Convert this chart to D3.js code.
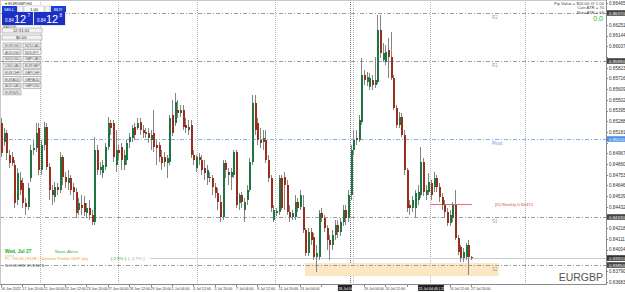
<!DOCTYPE html>
<html><head><meta charset="utf-8">
<script src="https://cdn.jsdelivr.net/npm/d3@7"></script>
<style>
html,body{margin:0;padding:0;background:#fff;overflow:hidden;}
svg{display:block;font-family:"Liberation Sans",Arial,sans-serif;}
</style></head><body>
<svg id="c" width="625" height="292"></svg>
<script>
// ---------------- DATA ----------------
const symbol = "EURGBP";
const timeLabels = ["16 Jun 2022","17 Jun 20:00","21 Jun 04:00","22 Jun 12:00","23 Jun 20:00","27 Jun 04:00","28 Jun 12:00","29 Jun 20:00","1 Jul 04:00","4 Jul 12:00","5 Jul 20:00","7 Jul 04:00","8 Jul 12:00","11 Jul 20:00","13 Jul 04:00","14 Jul 12:00","15 Jul 20:00","19 Jul 04:00","20 Jul 12:00","21 Jul 20:00","25 Jul 04:00","26 Jul 12:00","27 Jul 20:00"];
const opens = [0.8527,0.8508,0.8517,0.8495,0.8493,0.8485,0.8450,0.8470,0.8467,0.8447,0.8443,0.8472,0.8500,0.8502,0.8522,0.8480,0.8505,0.8523,0.8483,0.8460,0.8453,0.8463,0.8460,0.8493,0.8473,0.8467,0.8472,0.8463,0.8458,0.8440,0.8445,0.8447,0.8437,0.8442,0.8435,0.8428,0.8500,0.8480,0.8477,0.8483,0.8503,0.8527,0.8527,0.8485,0.8500,0.8503,0.8485,0.8490,0.8508,0.8512,0.8523,0.8522,0.8528,0.8520,0.8516,0.8517,0.8510,0.8517,0.8505,0.8505,0.8493,0.8493,0.8487,0.8488,0.8535,0.8527,0.8540,0.8537,0.8540,0.8525,0.8520,0.8525,0.8495,0.8482,0.8493,0.8490,0.8482,0.8472,0.8473,0.8472,0.8463,0.8457,0.8448,0.8433,0.8487,0.8478,0.8473,0.8475,0.8498,0.8447,0.8455,0.8440,0.8450,0.8460,0.8488,0.8547,0.8527,0.8510,0.8508,0.8510,0.8490,0.8472,0.8430,0.8437,0.8438,0.8472,0.8473,0.8465,0.8438,0.8433,0.8433,0.8448,0.8443,0.8443,0.8420,0.8397,0.8418,0.8413,0.8393,0.8393,0.8437,0.8432,0.8422,0.8410,0.8405,0.8415,0.8425,0.8418,0.8428,0.8440,0.8432,0.8455,0.8500,0.8512,0.8510,0.8528,0.8575,0.8568,0.8563,0.8570,0.8565,0.8568,0.8620,0.8590,0.8588,0.8600,0.8593,0.8572,0.8542,0.8525,0.8533,0.8515,0.8480,0.8445,0.8442,0.8442,0.8450,0.8455,0.8488,0.8455,0.8458,0.8467,0.8463,0.8472,0.8463,0.8453,0.8445,0.8438,0.8427,0.8432,0.8445,0.8412,0.8403,0.8392,0.8393,0.8405,0.8393];
const highs = [0.8532,0.8522,0.8520,0.8500,0.8498,0.8490,0.8482,0.8478,0.8472,0.8452,0.8467,0.8505,0.8510,0.8527,0.8527,0.8510,0.8528,0.8527,0.8487,0.8465,0.8468,0.8467,0.8498,0.8495,0.8478,0.8480,0.8475,0.8467,0.8462,0.8452,0.8455,0.8454,0.8447,0.8450,0.8440,0.8513,0.8505,0.8488,0.8490,0.8507,0.8533,0.8530,0.8530,0.8520,0.8505,0.8507,0.8500,0.8510,0.8517,0.8525,0.8527,0.8532,0.8532,0.8525,0.8522,0.8522,0.8520,0.8540,0.8510,0.8508,0.8500,0.8498,0.8495,0.8535,0.8550,0.8557,0.8550,0.8545,0.8545,0.8532,0.8530,0.8530,0.8500,0.8495,0.8497,0.8495,0.8490,0.8485,0.8478,0.8475,0.8467,0.8462,0.8455,0.8490,0.8490,0.8482,0.8482,0.8500,0.8500,0.8457,0.8458,0.8452,0.8465,0.8492,0.8555,0.8555,0.8532,0.8522,0.8520,0.8520,0.8495,0.8475,0.8445,0.8442,0.8475,0.8475,0.8478,0.8470,0.8445,0.8440,0.8455,0.8452,0.8460,0.8455,0.8422,0.8422,0.8422,0.8417,0.8405,0.8440,0.8442,0.8435,0.8425,0.8415,0.8420,0.8430,0.8430,0.8432,0.8445,0.8445,0.8460,0.8505,0.8520,0.8520,0.8535,0.8592,0.8580,0.8578,0.8577,0.8575,0.8593,0.8635,0.8635,0.8607,0.8605,0.8612,0.8618,0.8575,0.8545,0.8538,0.8537,0.8520,0.8482,0.8450,0.8454,0.8460,0.8465,0.8503,0.8492,0.8465,0.8477,0.8470,0.8478,0.8475,0.8467,0.8457,0.8450,0.8442,0.8440,0.8448,0.8460,0.8415,0.8405,0.8402,0.8407,0.8410,0.8394];
const lows = [0.8493,0.8504,0.8490,0.8482,0.8484,0.8442,0.8445,0.8455,0.8442,0.8435,0.8440,0.8468,0.8495,0.8498,0.8475,0.8475,0.8500,0.8480,0.8450,0.8445,0.8448,0.8455,0.8457,0.8465,0.8462,0.8460,0.8455,0.8450,0.8432,0.8435,0.8435,0.8434,0.8432,0.8430,0.8425,0.8425,0.8475,0.8475,0.8472,0.8480,0.8500,0.8515,0.8488,0.8478,0.8490,0.8480,0.8480,0.8485,0.8502,0.8508,0.8510,0.8520,0.8515,0.8512,0.8512,0.8507,0.8500,0.8498,0.8485,0.8488,0.8480,0.8483,0.8472,0.8485,0.8514,0.8524,0.8532,0.8533,0.8520,0.8517,0.8515,0.8492,0.8485,0.8478,0.8485,0.8475,0.8470,0.8465,0.8468,0.8455,0.8452,0.8440,0.8428,0.8430,0.8472,0.8465,0.8460,0.8472,0.8442,0.8440,0.8442,0.8428,0.8445,0.8458,0.8485,0.8515,0.8505,0.8502,0.8500,0.8487,0.8468,0.8438,0.8428,0.8434,0.8435,0.8440,0.8440,0.8435,0.8428,0.8430,0.8430,0.8438,0.8440,0.8417,0.8394,0.8394,0.8405,0.8390,0.8378,0.8390,0.8428,0.8418,0.8400,0.8390,0.8400,0.8410,0.8412,0.8414,0.8424,0.8425,0.8428,0.8450,0.8495,0.8505,0.8508,0.8525,0.8565,0.8564,0.8560,0.8560,0.8562,0.8566,0.8592,0.8588,0.8585,0.8572,0.8570,0.8540,0.8522,0.8522,0.8513,0.8475,0.8438,0.8435,0.8438,0.8432,0.8445,0.8452,0.8454,0.8450,0.8455,0.8450,0.8458,0.8458,0.8448,0.8440,0.8432,0.8424,0.8424,0.8428,0.8410,0.8395,0.8388,0.8388,0.8390,0.8375,0.8390];
const closes = [0.8497,0.8517,0.8497,0.8487,0.8487,0.8447,0.8477,0.8460,0.8447,0.8443,0.8462,0.8500,0.8502,0.8517,0.8480,0.8505,0.8523,0.8483,0.8460,0.8455,0.8463,0.8460,0.8493,0.8473,0.8468,0.8472,0.8460,0.8458,0.8437,0.8447,0.8442,0.8438,0.8442,0.8435,0.8428,0.8500,0.8480,0.8483,0.8485,0.8503,0.8527,0.8522,0.8493,0.8500,0.8497,0.8490,0.8495,0.8507,0.8513,0.8522,0.8515,0.8527,0.8520,0.8517,0.8518,0.8512,0.8515,0.8503,0.8502,0.8493,0.8487,0.8488,0.8492,0.8532,0.8517,0.8548,0.8537,0.8540,0.8523,0.8522,0.8523,0.8495,0.8490,0.8493,0.8490,0.8480,0.8477,0.8480,0.8472,0.8463,0.8457,0.8448,0.8433,0.8487,0.8480,0.8475,0.8478,0.8498,0.8445,0.8455,0.8448,0.8448,0.8460,0.8488,0.8547,0.8520,0.8510,0.8507,0.8512,0.8490,0.8472,0.8442,0.8440,0.8439,0.8472,0.8442,0.8465,0.8438,0.8433,0.8437,0.8448,0.8442,0.8455,0.8420,0.8397,0.8418,0.8410,0.8393,0.8397,0.8437,0.8432,0.8422,0.8410,0.8405,0.8415,0.8425,0.8418,0.8428,0.8440,0.8432,0.8455,0.8500,0.8510,0.8510,0.8530,0.8575,0.8570,0.8573,0.8572,0.8565,0.8570,0.8620,0.8597,0.8597,0.8598,0.8593,0.8572,0.8542,0.8525,0.8533,0.8515,0.8480,0.8442,0.8442,0.8450,0.8457,0.8458,0.8488,0.8458,0.8460,0.8468,0.8455,0.8472,0.8463,0.8453,0.8445,0.8438,0.8427,0.8435,0.8445,0.8412,0.8398,0.8392,0.8398,0.8405,0.8393,0.8392];
const priceTicks = [0.86465,0.86358,0.86251,0.86144,0.86037,0.85930,0.85823,0.85716,0.85609,0.85502,0.85395,0.85288,0.85181,0.85074,0.84967,0.84860,0.84753,0.84646,0.84539,0.84432,0.84325,0.84218,0.84111,0.84004,0.83897,0.83790,0.83683];
const levelNames = ["R2","R1","Pivot","S1","S2"];
const levelValues = [0.8637,0.8589,0.8511,0.8433,0.8385];
const bidPrice = 0.8392;
const weeklyLabel = "[D] Weekly 0.84472";
const weeklyValue = 0.8446;
const zoneTop = 0.8387, zoneBottom = 0.8374;
const separatorBars = [14.2,43.4,73,102.2,130.3,131.5,160.3,195.9];
const vLineLabels = ["18 Jul 04:40","25 Jul 04:40 | 25 Jul"];
const vLineBars = [130.3,160.3];
const currencyCol1 = ["EURUSD","AUDUSD","NZDUSD","USDCAD","EURCHF","EURAUD","AUDCAD","EURNZD"];
const currencyCol2 = ["NZDCAD","NZDJPY","GBPCAD","EURGBP","GBPCHF","GBPAUD","GBPUSD"];

// ---------------- DRAW ----------------
const W = 625, H = 292, plotR = 606, plotB = 284;
const svg = d3.select("#c");
const x = d3.scaleLinear().domain([0, 226]).range([2, 605.4]);
const y = d3.scaleLinear().domain([0.8650, 0.8650 - 0.0001 * 292]).range([0, 292]);

svg.append("rect").attr("width", W).attr("height", H).attr("fill", "#fff");
svg.append("defs").append("clipPath").attr("id","pc").append("rect")
  .attr("x",0).attr("y",0).attr("width",plotR).attr("height",plotB);
const plot = svg.append("g").attr("clip-path","url(#pc)");

// vertical separators
plot.selectAll(".sep").data(separatorBars).enter().append("line")
  .attr("x1", d => Math.round(x(d)) + 0.5).attr("x2", d => Math.round(x(d)) + 0.5)
  .attr("y1", 0).attr("y2", plotB)
  .attr("stroke", (d,i) => i === 4 ? "#777" : "#b4b4b4").attr("stroke-width", 1)
  .attr("stroke-dasharray", "1,1");

// zone
plot.append("rect").attr("x", x(113.5)).attr("width", x(186) - x(113.5))
  .attr("y", y(zoneTop)).attr("height", y(zoneBottom) - y(zoneTop))
  .attr("fill", "#fde6c4");

// level lines
const lvlColor = n => n === "Pivot" ? "#7fb2ee" : "#9c9c9c";
plot.selectAll(".lvl").data(levelValues).enter().append("line")
  .attr("x1", 0).attr("x2", plotR)
  .attr("y1", d => Math.round(y(d)) + 0.5).attr("y2", d => Math.round(y(d)) + 0.5)
  .attr("stroke", (d,i) => lvlColor(levelNames[i])).attr("stroke-width", 1)
  .attr("stroke-dasharray", "4,2,1,2");
plot.selectAll(".lvlt").data(levelValues).enter().append("text")
  .attr("x", 492).attr("y", d => y(d) + 5.5)
  .attr("font-size", 4.6).attr("fill", (d,i) => levelNames[i] === "Pivot" ? "#5a9be6" : "#a0a0a0")
  .text((d,i) => levelNames[i]);

// bid line
plot.append("line").attr("x1", 150).attr("x2", plotR)
  .attr("y1", Math.round(y(bidPrice)) + 0.5).attr("y2", Math.round(y(bidPrice)) + 0.5)
  .attr("stroke", "#c4cedb").attr("stroke-width", 1);

// weekly line
plot.append("line").attr("x1", x(160.3)).attr("x2", x(176))
  .attr("y1", Math.round(y(weeklyValue)) + 0.5).attr("y2", Math.round(y(weeklyValue)) + 0.5)
  .attr("stroke", "#f06a6a").attr("stroke-width", 1);
plot.append("text").attr("x", 495).attr("y", y(weeklyValue) + 1.8)
  .attr("font-size", 4.4).attr("fill", "#e84848").text(weeklyLabel);

// candles
const idx = d3.range(opens.length);
const cg = plot.append("g");
cg.selectAll(".wick").data(idx).enter().append("line")
  .attr("x1", i => Math.round(x(i)) - 0.5).attr("x2", i => Math.round(x(i)) - 0.5)
  .attr("y1", i => y(highs[i])).attr("y2", i => y(lows[i]))
  .attr("stroke", "#858585").attr("stroke-width", 1);
cg.selectAll(".body").data(idx).enter().append("rect")
  .attr("x", i => Math.round(x(i)) - 1).attr("width", 2)
  .attr("y", i => y(Math.max(opens[i], closes[i])))
  .attr("height", i => Math.max(1, Math.abs(y(opens[i]) - y(closes[i]))))
  .attr("fill", i => closes[i] >= opens[i] ? "#1f7542" : "#9a2e1c");

// frame / axes
svg.append("line").attr("x1", plotR + 0.5).attr("x2", plotR + 0.5).attr("y1", 0).attr("y2", plotB + 1)
  .attr("stroke", "#8a8a8a");
svg.append("line").attr("x1", 0).attr("x2", plotR).attr("y1", plotB + 0.5).attr("y2", plotB + 0.5)
  .attr("stroke", "#8a8a8a");
svg.append("line").attr("x1", 0).attr("x2", plotR).attr("y1", 0.5).attr("y2", 0.5)
  .attr("stroke", "#c8c8c8");
svg.append("line").attr("x1", 0.5).attr("x2", 0.5).attr("y1", 0).attr("y2", plotB)
  .attr("stroke", "#c8c8c8");

// price axis
const hl = levelValues.map((v,i) => ({v, c: levelNames[i] === "Pivot" ? "#4d8fe0" : "#444"}))
  .concat([{v: bidPrice, c: "#333"}]);
const freeTicks = priceTicks.filter(t => hl.every(h => Math.abs(y(h.v) - y(t)) > 6));
const ya = svg.append("g");
ya.selectAll("line").data(priceTicks).enter().append("line")
  .attr("x1", plotR).attr("x2", plotR + 2).attr("y1", d => Math.round(y(d)) + 0.5).attr("y2", d => Math.round(y(d)) + 0.5)
  .attr("stroke", "#8a8a8a");
ya.selectAll("text").data(freeTicks).enter().append("text")
  .attr("x", 609).attr("y", d => y(d) + 1.8).attr("font-size", 4.6).attr("fill", "#333")
  .text(d => d3.format(".5f")(d));
const hlg = svg.append("g").selectAll("g").data(hl).enter().append("g");
hlg.append("rect").attr("x", plotR + 1).attr("width", 18).attr("y", d => y(d.v) - 2.8).attr("height", 5.6).attr("fill", d => d.c);
hlg.append("text").attr("x", 609).attr("y", d => y(d.v) + 1.7).attr("font-size", 4.4).attr("fill", "#fff")
  .text(d => d3.format(".5f")(d.v));

// time axis
const boxes = vLineBars.map((b,k) => ({x0: x(b) - 12, w: k ? 26 : 14, t: vLineLabels[k]}));
const tl = timeLabels.map((t,k) => ({t, i: k * 8}));
const xa = svg.append("g");
xa.selectAll("line").data(tl).enter().append("line")
  .attr("x1", d => Math.round(x(d.i)) - 0.5).attr("x2", d => Math.round(x(d.i)) - 0.5)
  .attr("y1", plotB).attr("y2", plotB + 3).attr("stroke", "#8a8a8a");
const visibleTl = tl.filter(d => boxes.every(b => x(d.i) + 18 < b.x0 || x(d.i) > b.x0 + b.w - 2));
xa.selectAll("text").data(visibleTl).enter().append("text")
  .attr("x", d => Math.max(1, x(d.i) - 1)).attr("y", 290).attr("font-size", 3.6).attr("fill", "#333")
  .text(d => d.t);
const vg = svg.append("g").selectAll("g").data(boxes).enter().append("g");
vg.append("rect").attr("x", d => d.x0).attr("y", 285).attr("width", d => d.w).attr("height", 6).attr("fill", "#222");
vg.append("text").attr("x", d => d.x0 + 0.5).attr("y", 290).attr("font-size", 3.6).attr("fill", "#fff").text(d => d.t);

// top-left header and trade panel
svg.append("text").attr("x", 5).attr("y", 5).attr("font-size", 4.2).attr("fill", "#333").text("▾ " + symbol + ",H4");
const tp = svg.append("g");
tp.append("rect").attr("x", 2).attr("y", 6).attr("width", 64).attr("height", 20).attr("fill", "#e8e8e8");
tp.append("rect").attr("x", 2).attr("y", 6).attr("width", 15).attr("height", 6).attr("fill", "#1a3dd6");
tp.append("text").attr("x", 4).attr("y", 11).attr("font-size", 4.2).attr("fill", "#fff").text("SELL");
tp.append("rect").attr("x", 18).attr("y", 6).attr("width", 5).attr("height", 6).attr("fill", "#f4f4f4").attr("stroke", "#aaa").attr("stroke-width", 0.4);
tp.append("rect").attr("x", 24).attr("y", 6).attr("width", 20).attr("height", 6).attr("fill", "#fff").attr("stroke", "#aaa").attr("stroke-width", 0.4);
tp.append("text").attr("x", 30).attr("y", 11).attr("font-size", 4.2).attr("fill", "#111").text("1.00");
tp.append("rect").attr("x", 45).attr("y", 6).attr("width", 5).attr("height", 6).attr("fill", "#f4f4f4").attr("stroke", "#aaa").attr("stroke-width", 0.4);
tp.append("rect").attr("x", 51).attr("y", 6).attr("width", 15).attr("height", 6).attr("fill", "#1a3dd6");
tp.append("text").attr("x", 54).attr("y", 11).attr("font-size", 4.2).attr("fill", "#fff").text("BUY");
[[2,"0.84","12","7"],[34,"0.84","12","8"]].forEach(([bx,a,b,c]) => {
  tp.append("rect").attr("x", bx).attr("y", 12).attr("width", 31).attr("height", 13).attr("fill", "#1c2fc4");
  tp.append("text").attr("x", bx + 3).attr("y", 22).attr("font-size", 4.5).attr("fill", "#fff").text(a);
  tp.append("text").attr("x", bx + 12).attr("y", 23).attr("font-size", 11).attr("fill", "#fff").text(b);
  tp.append("text").attr("x", bx + 25.5).attr("y", 17).attr("font-size", 4.5).attr("fill", "#fff").text(c);
});
tp.append("text").attr("x", 3).attr("y", 27.5).attr("font-size", 3.2).attr("fill", "#555").text("MARGIN:");
tp.append("rect").attr("x", 2).attr("y", 28).attr("width", 40).attr("height", 5).attr("fill", "#f2f2f2").attr("stroke", "#888").attr("stroke-width", 0.5);
tp.append("text").attr("x", 13).attr("y", 32).attr("font-size", 4.2).attr("fill", "#333").text("12:31:01");
tp.append("rect").attr("x", 2).attr("y", 35).attr("width", 40).attr("height", 5).attr("fill", "#f2f2f2").attr("stroke", "#888").attr("stroke-width", 0.5);
tp.append("text").attr("x", 16).attr("y", 39).attr("font-size", 4.2).attr("fill", "#333").text("$0.00");
const btn = (bx, by, t) => {
  tp.append("rect").attr("x", bx).attr("y", by).attr("width", 18).attr("height", 5).attr("fill", "#f4f4f4").attr("stroke", "#777").attr("stroke-width", 0.5);
  tp.append("text").attr("x", bx + 2).attr("y", by + 4).attr("font-size", 3.5).attr("fill", "#555").text(t);
};
currencyCol1.forEach((t,k) => btn(3, 43 + k * 6.7, t));
currencyCol2.forEach((t,k) => btn(23, 43 + k * 6.7, t));

// top-right info
const info = svg.append("g").attr("font-size", 4.2).attr("fill", "#444").attr("text-anchor", "end");
info.append("text").attr("x", 604).attr("y", 4.5).text("Pip Value = $10.00 @ 1.00");
info.append("text").attr("x", 604).attr("y", 9).text("Curr ATR = 70");
info.append("text").attr("x", 604).attr("y", 13.5).text("Prev ATR = 66");
info.append("text").attr("x", 603).attr("y", 21).attr("font-size", 7).attr("fill", "#2bb52b").text("0.0");

// bottom-left news
const nw = svg.append("g").attr("font-size", 4.4);
nw.append("text").attr("x", 5).attr("y", 252.5).attr("font-weight", "bold").attr("font-size", 4.8).attr("fill", "#1faa1f").text("Wed, Jul 27");
nw.append("text").attr("x", 55).attr("y", 252.5).attr("fill", "#32b432").text("News Alerts");
nw.append("line").attr("x1", 5).attr("x2", 14).attr("y1", 256).attr("y2", 256).attr("stroke", "#ccc");
nw.append("text").attr("x", 5).attr("y", 260).attr("fill", "#f0a030").text("Fr : 09:00 | EUR | German Prelim GDP q/q");
nw.append("text").attr("x", 111).attr("y", 260).attr("fill", "#2aa52a").text("[ 2.9% ]");
nw.append("text").attr("x", 128).attr("y", 260).attr("fill", "#999").text("[ -1.7% ]");
nw.append("text").attr("x", 5).attr("y", 267).attr("fill", "#555").text("NO MORE EVENTS");

// symbol watermark
svg.append("text").attr("x", 603).attr("y", 281).attr("text-anchor", "end").attr("font-size", 10.5).attr("fill", "#555").text(symbol);
</script>
</body></html>
